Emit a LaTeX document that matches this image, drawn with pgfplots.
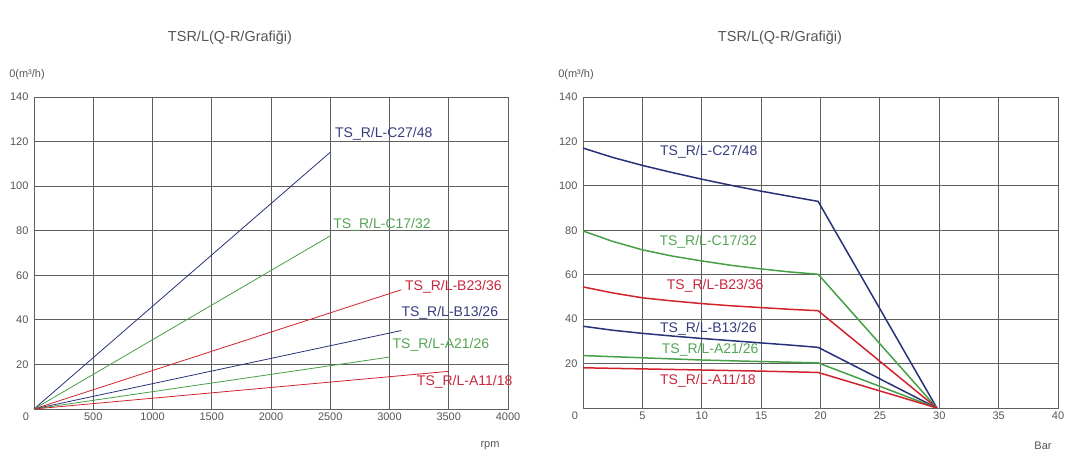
\documentclass[border=0pt]{standalone}
\usepackage{pgfplots}
\pgfplotsset{compat=1.18}
\usepackage{fontspec}
\setmainfont{Liberation Sans}
\definecolor{navy}{RGB}{40,50,120}
\definecolor{pgreen}{RGB}{70,160,70}
\definecolor{pred}{RGB}{210,35,45}
\definecolor{lnavy}{RGB}{55,60,125}
\definecolor{lgreen}{RGB}{85,165,85}
\definecolor{lred}{RGB}{200,40,60}
\definecolor{txt}{RGB}{85,85,85}
\definecolor{gridc}{RGB}{95,95,95}
\pgfplotsset{
  mybase/.style={
    anchor=south west, scale only axis,
    ymin=0, ymax=140,
    ytick={20,40,...,140},
    grid=major,
    major grid style={gridc, line width=0.9pt},
    axis line style={gridc, line width=0.9pt},
    tick style={draw=none},
    ticklabel style={font=\fontsize{11}{13}\selectfont, text=txt},
    yticklabel style={xshift=-2pt},
    /pgf/number format/assume math mode=true,
    /pgf/number format/1000 sep={},
    clip=false,
  },
}
\tikzset{
  lab/.style={font=\fontsize{14}{16}\selectfont, anchor=west, inner sep=0pt},
  small/.style={font=\fontsize{11}{13}\selectfont, text=txt, inner sep=0pt},
}
\begin{document}
\begin{tikzpicture}
\path (0pt,0pt) rectangle (1082pt,465pt);

% ---------------- left chart ----------------
\begin{axis}[mybase,
  at={(34pt,56pt)}, width=474pt, height=312pt,
  xmin=0, xmax=4000, xtick={500,1000,...,4000}]
\addplot[navy, line width=0.8pt] coordinates {(0,0) (2500,115.2)};
\addplot[pgreen, line width=0.8pt] coordinates {(0,0) (2500,77.7)};
\addplot[pred, line width=0.8pt] coordinates {(0,0) (3100,53.5)};
\addplot[navy, line width=0.8pt] coordinates {(0,0) (3100,35.2)};
\addplot[pgreen, line width=0.8pt] coordinates {(0,0) (3000,23.3)};
\addplot[pred, line width=0.8pt] coordinates {(0,0) (3500,16.9)};
\node[lab, text=lnavy] at (axis cs:2540,123.4) {TS\_R/L-C27/48};
\node[lab, text=lgreen] at (axis cs:2525,82.6) {TS\_R/L-C17/32};
\node[lab, text=lred] at (axis cs:3130,54.9) {TS\_R/L-B23/36};
\node[lab, text=lnavy] at (axis cs:3100,43.1) {TS\_R/L-B13/26};
\node[lab, text=lgreen] at (axis cs:3025,28.7) {TS\_R/L-A21/26};
\node[lab, text=lred] at (axis cs:3230,12.3) {TS\_R/L-A11/18};
\node[small] at ([xshift=-8pt,yshift=-8pt]axis cs:0,0) {0};
\node[small] at ([xshift=-7pt,yshift=22pt]rel axis cs:0,1) {0(m³/h)};
\node[small] at ([xshift=-18pt,yshift=-37pt]rel axis cs:1,0) {rpm};
\end{axis}

% ---------------- right chart ----------------
\begin{axis}[mybase,
  at={(583pt,57pt)}, width=475pt, height=311pt,
  xmin=0, xmax=40, xtick={5,10,...,40}]
\addplot[navy, line width=1.5pt] coordinates {(0,117) (2.5,112.8) (5,109.2) (7.5,106) (10,103) (12.5,100.2) (15,97.6) (17.5,95.2) (19.8,93) (29.8,0)};
\addplot[pgreen, line width=1.5pt] coordinates {(0,79.7) (2.5,75) (5,71.2) (7.5,68.4) (10,66.2) (12.5,64.2) (15,62.6) (17.5,61.2) (19.8,60.2) (29.8,0)};
\addplot[pred, line width=1.5pt] coordinates {(0,54.5) (2.5,51.8) (5,49.6) (7.5,48.2) (10,47) (12.5,46) (15,45.2) (17.5,44.4) (19.8,43.8) (29.8,0)};
\addplot[navy, line width=1.5pt] coordinates {(0,36.8) (2.5,35) (5,33.6) (7.5,32.4) (10,31.3) (12.5,30.3) (15,29.3) (17.5,28.3) (19.8,27.3) (29.8,0)};
\addplot[pgreen, line width=1.5pt] coordinates {(0,23.6) (5,22.6) (10,21.6) (15,20.9) (19.8,20.3) (29.8,0)};
\addplot[pred, line width=1.5pt] coordinates {(0,18.1) (5,17.6) (10,17.1) (15,16.6) (19.8,16) (29.8,0)};
\node[lab, text=lnavy] at (axis cs:6.48,115.1) {TS\_R/L-C27/48};
\node[lab, text=lgreen] at (axis cs:6.43,74.6) {TS\_R/L-C17/32};
\node[lab, text=lred] at (axis cs:7.05,55.1) {TS\_R/L-B23/36};
\node[lab, text=lnavy] at (axis cs:6.48,35.6) {TS\_R/L-B13/26};
\node[lab, text=lgreen] at (axis cs:6.63,26.2) {TS\_R/L-A21/26};
\node[lab, text=lred] at (axis cs:6.48,12.3) {TS\_R/L-A11/18};
\node[small] at ([xshift=-8pt,yshift=-8pt]axis cs:0,0) {0};
\node[small] at ([xshift=-7pt,yshift=22pt]rel axis cs:0,1) {0(m³/h)};
\node[small] at ([xshift=-15pt,yshift=-38pt]rel axis cs:1,0) {Bar};
\end{axis}

\node[font=\fontsize{14.5}{17}\selectfont, text=txt] at (230pt,427pt) {TSR/L(Q-R/Grafiği)};
\node[font=\fontsize{14.5}{17}\selectfont, text=txt] at (780pt,427pt) {TSR/L(Q-R/Grafiği)};
\end{tikzpicture}
\end{document}
